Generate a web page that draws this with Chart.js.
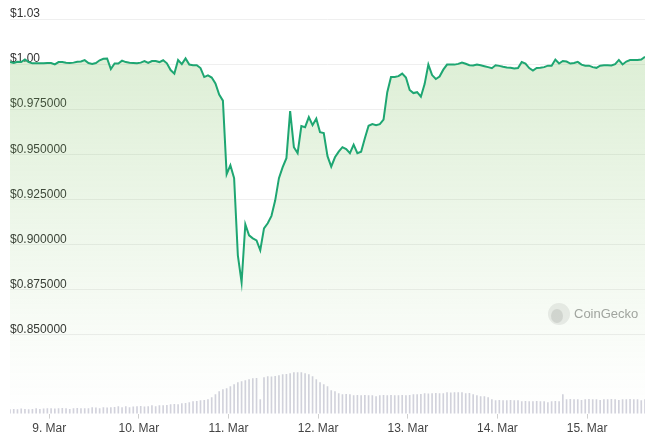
<!DOCTYPE html>
<html lang="en">
<head>
    <meta charset="UTF-8">
    <title>USDC Price</title>
    <script src="https://cdn.jsdelivr.net/npm/chart.js"></script>
    <style>
        html, body { margin: 0; padding: 0; background: #fff; }
        .chart-container { width: 660px; height: 441px; }
    </style>
</head>
<body>
    <div class="chart-container">
        <canvas id="priceChart"></canvas>
    </div>

    <script>
        // hourly data, first point = 8 Mar 13:30 (hours counted from 8 Mar 00:00)
        const startHour = 13.5;

        const prices = [
            1.0011, 1.0006, 1.0013, 1.0011, 1.0026, 1.0011, 1.0004, 1.0004, 1.0004, 1.0004,
            1.0006, 1.0006, 0.9998, 1.0011, 1.0012, 1.0007, 1.0006, 1.0008, 1.0013, 1.0014,
            1.0022, 1.0006, 1.0001, 1.0006, 1.0021, 1.0029, 1.0031, 0.9972, 1.0003, 1.0003,
            1.0019, 1.0011, 1.0007, 1.0006, 1.0004, 1.0008, 1.0017, 1.0006, 1.0017, 1.0017,
            1.0011, 1.0021, 1.0004, 0.9967, 0.9947, 1.0022, 1.0000, 1.0031, 0.9997, 0.9994,
            0.9994, 0.9978, 0.9928, 0.9937, 0.9925, 0.9892, 0.9831, 0.9797, 0.9389, 0.9439,
            0.9367, 0.8939, 0.8789, 0.9111, 0.9050, 0.9033, 0.9022, 0.8967, 0.9089, 0.9117,
            0.9158, 0.9244, 0.9367, 0.9428, 0.9478, 0.9739, 0.9539, 0.9506, 0.9656, 0.9650,
            0.9706, 0.9661, 0.9697, 0.9622, 0.9617, 0.9489, 0.9431, 0.9483, 0.9514, 0.9539,
            0.9528, 0.9506, 0.9553, 0.9506, 0.9514, 0.9589, 0.9658, 0.9667, 0.9661, 0.9667,
            0.9692, 0.9844, 0.9928, 0.9928, 0.9933, 0.9947, 0.9925, 0.9856, 0.9839, 0.9844,
            0.9819, 0.9889, 0.9997, 0.9939, 0.9917, 0.9931, 0.9969, 0.9997, 0.9997, 0.9997,
            1.0001, 1.0009, 1.0002, 0.9994, 0.9992, 0.9998, 0.9993, 0.9988, 0.9983, 0.9977,
            0.9993, 0.9990, 0.9985, 0.9981, 0.9980, 0.9975, 0.9978, 1.0011, 1.0003, 0.9978,
            0.9964, 0.9978, 0.9979, 0.9983, 0.9991, 0.9991, 1.0025, 1.0003, 1.0017, 1.0014,
            1.0003, 1.0006, 1.0012, 0.9997, 0.9991, 0.9991, 0.9983, 0.9979, 0.9991, 0.9993,
            0.9993, 0.9992, 1.0000, 1.0023, 0.9998, 1.0014, 1.0022, 1.0022, 1.0022, 1.0025,
            1.0041
        ];

        // hourly volume, million USD
        const volumes = [
            240, 250, 240, 290, 250, 240, 250, 300, 250, 290,
            300, 300, 290, 300, 310, 300, 250, 300, 310, 300,
            300, 300, 360, 350, 300, 360, 350, 360, 370, 420,
            360, 420, 360, 410, 420, 430, 410, 420, 480, 420,
            480, 480, 490, 540, 550, 540, 600, 610, 660, 720,
            730, 780, 790, 840, 960, 1140, 1320, 1440, 1500, 1620,
            1740, 1860, 1920, 1980, 2040, 2100, 2110, 840, 2160, 2220,
            2210, 2230, 2280, 2340, 2350, 2400, 2460, 2450, 2460, 2400,
            2340, 2220, 2040, 1860, 1740, 1620, 1380, 1320, 1200, 1140,
            1150, 1140, 1080, 1090, 1080, 1090, 1080, 1080, 1020, 1080,
            1090, 1080, 1090, 1080, 1080, 1090, 1080, 1090, 1140, 1140,
            1150, 1200, 1190, 1200, 1210, 1200, 1200, 1260, 1250, 1260,
            1260, 1260, 1200, 1210, 1140, 1080, 1020, 1020, 960, 840,
            780, 790, 780, 780, 790, 780, 780, 720, 730, 720,
            720, 730, 720, 720, 660, 720, 730, 720, 1140, 840,
            850, 840, 840, 790, 840, 850, 840, 840, 790, 840,
            840, 850, 840, 790, 840, 840, 850, 840, 840, 780,
            840
        ];

        const dayTicks = [24, 48, 72, 96, 120, 144, 168];
        const priceTicks = [0.85, 0.875, 0.9, 0.925, 0.95, 0.975, 1.0, 1.025];

        const priceMin = 0.8061;
        const priceMax = 1.025;
        const volumeMax = 23640;

        const priceData = prices.map((p, i) => ({ x: startHour + i, y: p }));
        const volumeData = volumes.map((v, i) => ({ x: startHour + i, y: v }));

        // CoinGecko watermark
        const watermark = {
            id: 'watermark',
            beforeDatasetsDraw(chart) {
                const c = chart.ctx;
                c.save();
                c.fillStyle = '#ececec';
                c.beginPath();
                c.arc(559, 314, 11, 0, Math.PI * 2);
                c.fill();
                c.fillStyle = '#d6d6d6';
                c.beginPath();
                c.ellipse(557, 316, 6, 7, 0, 0, Math.PI * 2);
                c.fill();
                c.fillStyle = '#a3a3a3';
                c.font = '13px "Liberation Sans", Arial, sans-serif';
                c.textBaseline = 'middle';
                c.fillText('CoinGecko', 574, 314);
                c.restore();
            }
        };

        const ctx = document.getElementById('priceChart').getContext('2d');
        new Chart(ctx, {
            data: {
                datasets: [
                    {
                        type: 'line',
                        data: priceData,
                        yAxisID: 'y',
                        borderColor: '#1ea672',
                        borderWidth: 2,
                        pointRadius: 0,
                        tension: 0,
                        fill: 'start',
                        order: 1,
                        backgroundColor: (context) => {
                            const { ctx: c, chartArea } = context.chart;
                            if (!chartArea) return 'rgba(120,190,90,0.2)';
                            const g = c.createLinearGradient(0, chartArea.top, 0, chartArea.bottom);
                            g.addColorStop(0, 'rgba(120,190,90,0.28)');
                            g.addColorStop(0.85, 'rgba(120,190,90,0.03)');
                            g.addColorStop(1, 'rgba(120,190,90,0)');
                            return g;
                        }
                    },
                    {
                        type: 'bar',
                        data: volumeData,
                        yAxisID: 'yv',
                        backgroundColor: '#d2d2dc',
                        barThickness: 1,
                        order: 2
                    }
                ]
            },
            options: {
                responsive: true,
                maintainAspectRatio: false,
                animation: false,
                layout: { padding: { left: 10, right: 15, top: 19, bottom: 2 } },
                plugins: {
                    legend: { display: false },
                    tooltip: { enabled: false }
                },
                scales: {
                    x: {
                        type: 'linear',
                        offset: false,
                        min: startHour,
                        max: startHour + prices.length - 1,
                        afterBuildTicks: (scale) => {
                            scale.ticks = dayTicks.map(v => ({ value: v }));
                        },
                        grid: {
                            offset: false,
                            drawOnChartArea: false,
                            drawTicks: true,
                            tickLength: 5,
                            color: '#cfcfcf'
                        },
                        border: { display: false },
                        ticks: {
                            padding: 3,
                            maxRotation: 0,
                            color: '#444',
                            font: { size: 12, family: '"Liberation Sans", Arial, sans-serif' },
                            callback: (v) => (8 + Math.floor(v / 24)) + '. Mar'
                        }
                    },
                    y: {
                        type: 'linear',
                        position: 'left',
                        min: priceMin,
                        max: priceMax,
                        afterBuildTicks: (scale) => {
                            scale.ticks = priceTicks.map(v => ({ value: v }));
                        },
                        grid: {
                            color: '#efefef',
                            drawTicks: false
                        },
                        border: { display: false },
                        ticks: {
                            mirror: true,
                            padding: 0,
                            labelOffset: -5,
                            color: '#333',
                            font: { size: 12, family: '"Liberation Sans", Arial, sans-serif' },
                            callback: (v) => v >= 1 ? '$' + (v + 1e-9).toFixed(2) : '$' + v.toFixed(6)
                        }
                    },
                    yv: {
                        type: 'linear',
                        display: false,
                        min: 0,
                        max: volumeMax
                    }
                }
            },
            plugins: [watermark]
        });
    </script>
</body>
</html>
